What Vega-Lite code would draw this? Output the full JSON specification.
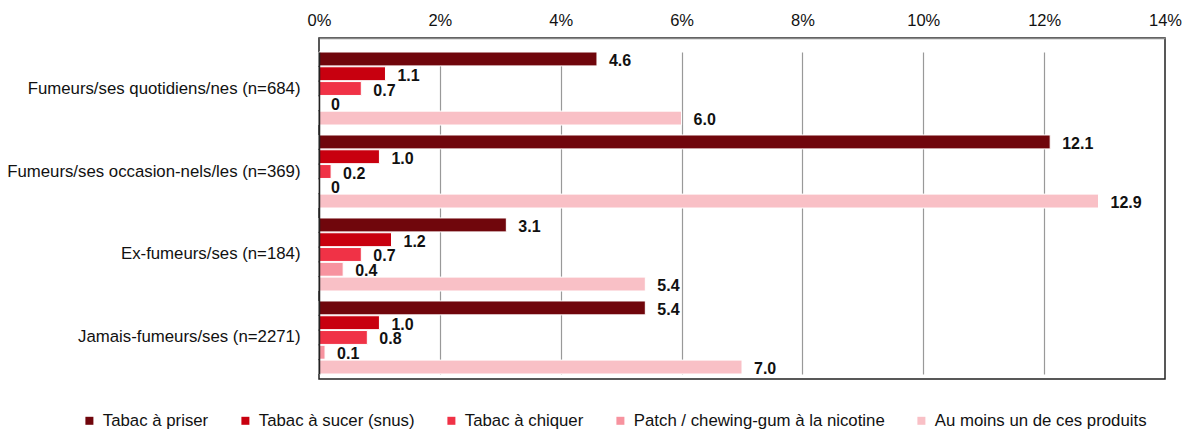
{
  "$schema": "https://vega.github.io/schema/vega-lite/v6.json",
  "autosize": {"type": "none"},
  "padding": {"left": 319, "top": 38, "right": 23, "bottom": 53},
  "width": 846,
  "height": 341,
  "data": {"values": [
    {"group": "Fumeurs/ses quotidiens/nes (n=684)", "series": "Tabac à priser", "value": 4.6, "label": "4.6"},
    {"group": "Fumeurs/ses quotidiens/nes (n=684)", "series": "Tabac à sucer (snus)", "value": 1.1, "label": "1.1"},
    {"group": "Fumeurs/ses quotidiens/nes (n=684)", "series": "Tabac à chiquer", "value": 0.7, "label": "0.7"},
    {"group": "Fumeurs/ses quotidiens/nes (n=684)", "series": "Patch / chewing-gum à la nicotine", "value": 0, "label": "0"},
    {"group": "Fumeurs/ses quotidiens/nes (n=684)", "series": "Au moins un de ces produits", "value": 6.0, "label": "6.0"},
    {"group": "Fumeurs/ses occasion-nels/les (n=369)", "series": "Tabac à priser", "value": 12.1, "label": "12.1"},
    {"group": "Fumeurs/ses occasion-nels/les (n=369)", "series": "Tabac à sucer (snus)", "value": 1.0, "label": "1.0"},
    {"group": "Fumeurs/ses occasion-nels/les (n=369)", "series": "Tabac à chiquer", "value": 0.2, "label": "0.2"},
    {"group": "Fumeurs/ses occasion-nels/les (n=369)", "series": "Patch / chewing-gum à la nicotine", "value": 0, "label": "0"},
    {"group": "Fumeurs/ses occasion-nels/les (n=369)", "series": "Au moins un de ces produits", "value": 12.9, "label": "12.9"},
    {"group": "Ex-fumeurs/ses (n=184)", "series": "Tabac à priser", "value": 3.1, "label": "3.1"},
    {"group": "Ex-fumeurs/ses (n=184)", "series": "Tabac à sucer (snus)", "value": 1.2, "label": "1.2"},
    {"group": "Ex-fumeurs/ses (n=184)", "series": "Tabac à chiquer", "value": 0.7, "label": "0.7"},
    {"group": "Ex-fumeurs/ses (n=184)", "series": "Patch / chewing-gum à la nicotine", "value": 0.4, "label": "0.4"},
    {"group": "Ex-fumeurs/ses (n=184)", "series": "Au moins un de ces produits", "value": 5.4, "label": "5.4"},
    {"group": "Jamais-fumeurs/ses (n=2271)", "series": "Tabac à priser", "value": 5.4, "label": "5.4"},
    {"group": "Jamais-fumeurs/ses (n=2271)", "series": "Tabac à sucer (snus)", "value": 1.0, "label": "1.0"},
    {"group": "Jamais-fumeurs/ses (n=2271)", "series": "Tabac à chiquer", "value": 0.8, "label": "0.8"},
    {"group": "Jamais-fumeurs/ses (n=2271)", "series": "Patch / chewing-gum à la nicotine", "value": 0.1, "label": "0.1"},
    {"group": "Jamais-fumeurs/ses (n=2271)", "series": "Au moins un de ces produits", "value": 7.0, "label": "7.0"}
  ]},
  "encoding": {
    "y": {
      "field": "group", "type": "nominal", "sort": null, "title": null,
      "scale": {"range": [14, 336], "paddingInner": 0.12, "paddingOuter": 0},
      "axis": {"zindex": 1, "ticks": false, "labelPadding": 19, "labelFontSize": 16.8, "labelFont": "Liberation Sans", "labelColor": "#111", "domainColor": "#222", "domainWidth": 1.5, "labelLimit": 400}
    },
    "yOffset": {
      "field": "series", "type": "nominal", "sort": null,
      "scale": {"paddingInner": 0.06}
    },
    "x": {
      "field": "value", "type": "quantitative", "title": null,
      "scale": {"domain": [0, 14], "nice": false},
      "axis": {"orient": "top", "values": [0, 2, 4, 6, 8, 10, 12, 14], "labelExpr": "datum.value + '%'", "labelFlush": false, "ticks": false, "labelPadding": 10, "labelFontSize": 16.5, "labelFont": "Liberation Sans", "labelColor": "#111", "grid": true, "gridColor": {"condition": {"test": "datum.value === 0 || datum.value === 14", "value": "transparent"}, "value": "#999"}, "gridWidth": 1.2, "domainColor": "#888", "domainWidth": 1.5}
    }
  },
  "layer": [
    {
      "mark": {"type": "bar", "stroke": "white", "strokeWidth": 1},
      "encoding": {
        "color": {
          "field": "series", "type": "nominal", "sort": null, "title": null,
          "scale": {
            "domain": ["Tabac à priser", "Tabac à sucer (snus)", "Tabac à chiquer", "Patch / chewing-gum à la nicotine", "Au moins un de ces produits"],
            "range": ["#70060C", "#C8000F", "#F03246", "#F7939F", "#F9C0C6"]
          },
          "legend": {
            "orient": "none", "legendX": -238, "legendY": 374, "direction": "horizontal", "columns": 5,
            "symbolType": "square", "symbolSize": 64, "symbolStrokeWidth": 0, "symbolOpacity": 1,
            "labelFontSize": 16.8, "labelFont": "Liberation Sans", "labelColor": "#111", "labelOffset": 5, "columnPadding": 28, "labelLimit": 400
          }
        }
      }
    },
    {
      "mark": {"type": "text", "align": "left", "baseline": "middle", "dx": 12, "dy": 2, "fontWeight": "bold", "fontSize": 16, "font": "Liberation Sans", "color": "#111"},
      "encoding": {"text": {"field": "label", "type": "nominal"}}
    }
  ],
  "config": {
    "view": {"stroke": "#222", "strokeWidth": 1.5}
  }
}
